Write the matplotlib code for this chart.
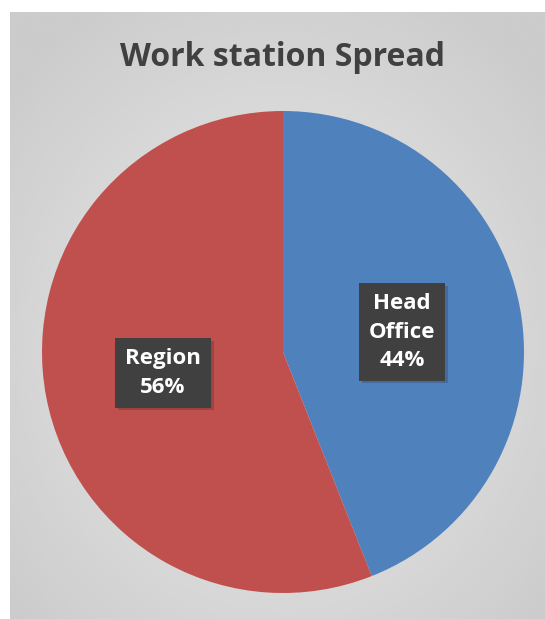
import numpy as np
import matplotlib
matplotlib.use("Agg")
import matplotlib.pyplot as plt
import matplotlib.patheffects as pe

# data
labels = ["Head Office", "Region"]
shares = [44, 56]
colors = ["#4F81BD", "#C0504D"]
title = "Work station Spread"

W, H = 545, 619
fig = plt.figure(figsize=(W / 100, H / 100), dpi=100)
fig.patch.set_facecolor("white")

# grey gradient panel
bg = fig.add_axes([10 / W, 0, (W - 10) / W, (H - 12) / H])
ny, nx = 300, 270
yy, xx = np.mgrid[0:ny, 0:nx]
r = np.hypot((xx - nx * 0.5) / (nx * 0.5), (yy - ny * 0.55) / (ny * 0.5))
shade = 0.90 - 0.10 * np.clip(r / 1.3, 0, 1) ** 1.3
bg.imshow(shade, cmap="gray", vmin=0, vmax=1, aspect="auto", extent=[0, 1, 0, 1],
          interpolation="bicubic")
bg.set_axis_off()

bg.text(0.51, 1 - 45 / (H - 12), title, transform=bg.transAxes, ha="center", va="center",
        fontsize=23, fontweight="bold", color="#404040", family="Open Sans")

# pie: center (283, 352), radius 241
cx, cy, rad = 283, 352, 241
ax = fig.add_axes([(cx - rad) / W, (H - cy - rad) / H, 2 * rad / W, 2 * rad / H])
wedges, _ = ax.pie(shares, colors=colors, startangle=90, counterclock=False,
                   radius=1.0)
ax.set_xlim(-1, 1)
ax.set_ylim(-1, 1)
ax.set_aspect("auto")
ax.set_axis_off()

# data labels
label_pos = [(402, 332), (163, 373)]
for lab, val, (px, py) in zip(labels, shares, label_pos):
    txt = lab.replace(" ", "\n") + f"\n{val}%"
    fig.text(px / W, 1 - py / H, txt, ha="center", va="center", fontsize=16,
             fontweight="bold", color="white", family="Open Sans", linespacing=1.45,
             bbox=dict(boxstyle="square,pad=0.45", fc="#404040", ec="none",
                       path_effects=[pe.SimplePatchShadow(offset=(2, -2), alpha=0.2),
                                     pe.Normal()]),
             zorder=5)

fig.savefig("out.png", dpi=100)
